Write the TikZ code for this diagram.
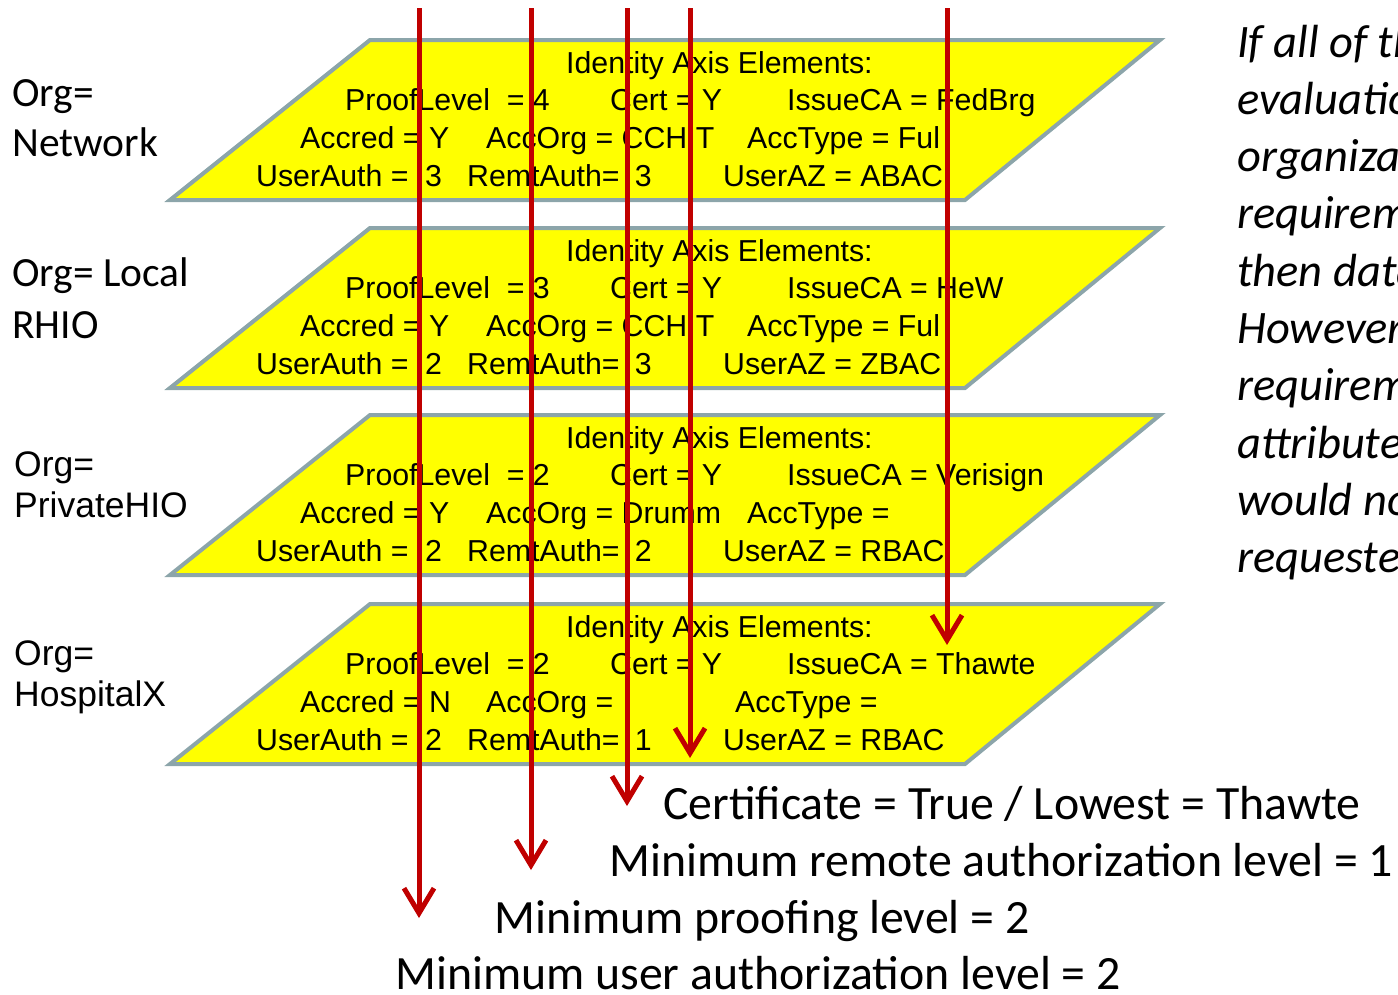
\documentclass[tikz,border=0pt]{standalone}
\usepackage{fontspec}
\setmainfont{Carlito}
\newfontfamily\arialita{Liberation Sans}
\usepackage{tikz}
\usetikzlibrary{arrows.meta}
\definecolor{amarillito}{RGB}{255,255,0}
\definecolor{grisito}{RGB}{140,165,170}
\definecolor{rojote}{RGB}{192,0,0}
\tikzset{>={Straight Barb[length=25pt,width=30pt]}}

\begin{document}
\begin{tikzpicture}[x=1pt,y=-1pt,
    plano/.style={draw=grisito,fill=amarillito,line width=4pt},
    txtplano/.style={anchor=base west,inner sep=0pt,font=\arialita\fontsize{30.3}{36}\selectfont},
    org/.style={anchor=base west,inner sep=0pt,font=\fontsize{41.5}{50}\selectfont},
    orgarial/.style={anchor=base west,inner sep=0pt,font=\arialita\fontsize{35.5}{42}\selectfont},
    minimo/.style={anchor=base west,inner sep=0pt,font=\fontsize{47.8}{57}\selectfont},
    nota/.style={anchor=base west,inner sep=0pt,font=\itshape\fontsize{46.5}{57}\selectfont},
    flecha/.style={->,rojote,line width=5pt}]
  \useasboundingbox (0,0) rectangle (1398,994);
  \clip (0,0) rectangle (1398,994);

  % one plane per organization
  \foreach \nom/\y/\pl/\ca/\ac/\ao/\xat/\at/\ua/\ra/\az in {
      net/40/4/FedBrg/Y/CCHIT/747/Ful/3/3/ABAC,
      rhio/228/3/HeW/Y/CCHIT/747/Ful/2/3/ZBAC,
      hio/415/2/Verisign/Y/Drumm/747/{}/2/2/RBAC,
      hosp/604/2/Thawte/N/{}/735/{}/2/1/RBAC}{
    \draw[plano] (370,\y) -- (1160,\y) -- (965,{\y+160}) -- (170,{\y+160}) -- cycle;
    \node[txtplano] (\nom-id) at (566,{\y+33}) {Identity Axis Elements:};
    \node[txtplano] (\nom-pl) at (345,{\y+70.5}) {ProofLevel \ = \pl};
    \node[txtplano] (\nom-cert) at (610,{\y+70.5}) {Cert = Y};
    \node[txtplano] (\nom-ca) at (787,{\y+70.5}) {IssueCA = \ca};
    \node[txtplano] (\nom-ac) at (300,{\y+108}) {Accred = \ac};
    \node[txtplano] (\nom-ao) at (486,{\y+108}) {AccOrg = \ao};
    \node[txtplano] (\nom-at) at (\xat,{\y+108}) {AccType = \at};
    \node[txtplano] (\nom-ua) at (256,{\y+146}) {UserAuth =\hspace{0.55em}\ua};
    \node[txtplano] (\nom-ra) at (467,{\y+146}) {RemtAuth=\hspace{0.5em}\ra};
    \node[txtplano] (\nom-az) at (723,{\y+146}) {UserAZ = \az};
  }

  % organization names
  \node[org] (org1a) at (12,106) {Org=};
  \node[org] (org1b) at (12,156) {Network};
  \node[org] (org2a) at (12,286) {Org= Local};
  \node[org] (org2b) at (12,338) {RHIO};
  \node[orgarial] (org3a) at (14,476) {Org=};
  \node[orgarial] (org3b) at (14,517) {PrivateHIO};
  \node[orgarial] (org4a) at (14,665) {Org=};
  \node[orgarial] (org4b) at (14,706) {HospitalX};

  % resulting minimums
  \node[minimo] (cert) at (663,819) {Certificate = True / Lowest = Thawte};
  \node[minimo] (remt) at (609,876) {Minimum remote authorization level = 1};
  \node[minimo] (proof) at (494,933) {Minimum proofing level = 2};
  \node[minimo] (user) at (395,989) {Minimum user authorization level = 2};

  % arrows through the planes
  \coordinate (user-ini) at (419,8);   \coordinate (user-fin) at (419,918);
  \coordinate (proof-ini) at (531,8);  \coordinate (proof-fin) at (531,870);
  \coordinate (remt-ini) at (627,8);   \coordinate (remt-fin) at (627,806);
  \coordinate (cert-ini) at (690,8);   \coordinate (cert-fin) at (690,758);
  \coordinate (ca-ini) at (947,8);     \coordinate (ca-fin) at (947,645);
  \draw[flecha] (user-ini) -- (user-fin);
  \draw[flecha] (proof-ini) -- (proof-fin);
  \draw[flecha] (remt-ini) -- (remt-fin);
  \draw[flecha] (cert-ini) -- (cert-fin);
  \draw[flecha] (ca-ini) -- (ca-fin);

  % side note
  \foreach \lin [count=\i from 0] in {If all of the, evaluation, organization,
      requirements, then data, However, requirements, attributes, would not,
      requested}
    \node[nota] (nota\i) at (1237,{57+57.3*\i}) {\lin};
\end{tikzpicture}
\end{document}
